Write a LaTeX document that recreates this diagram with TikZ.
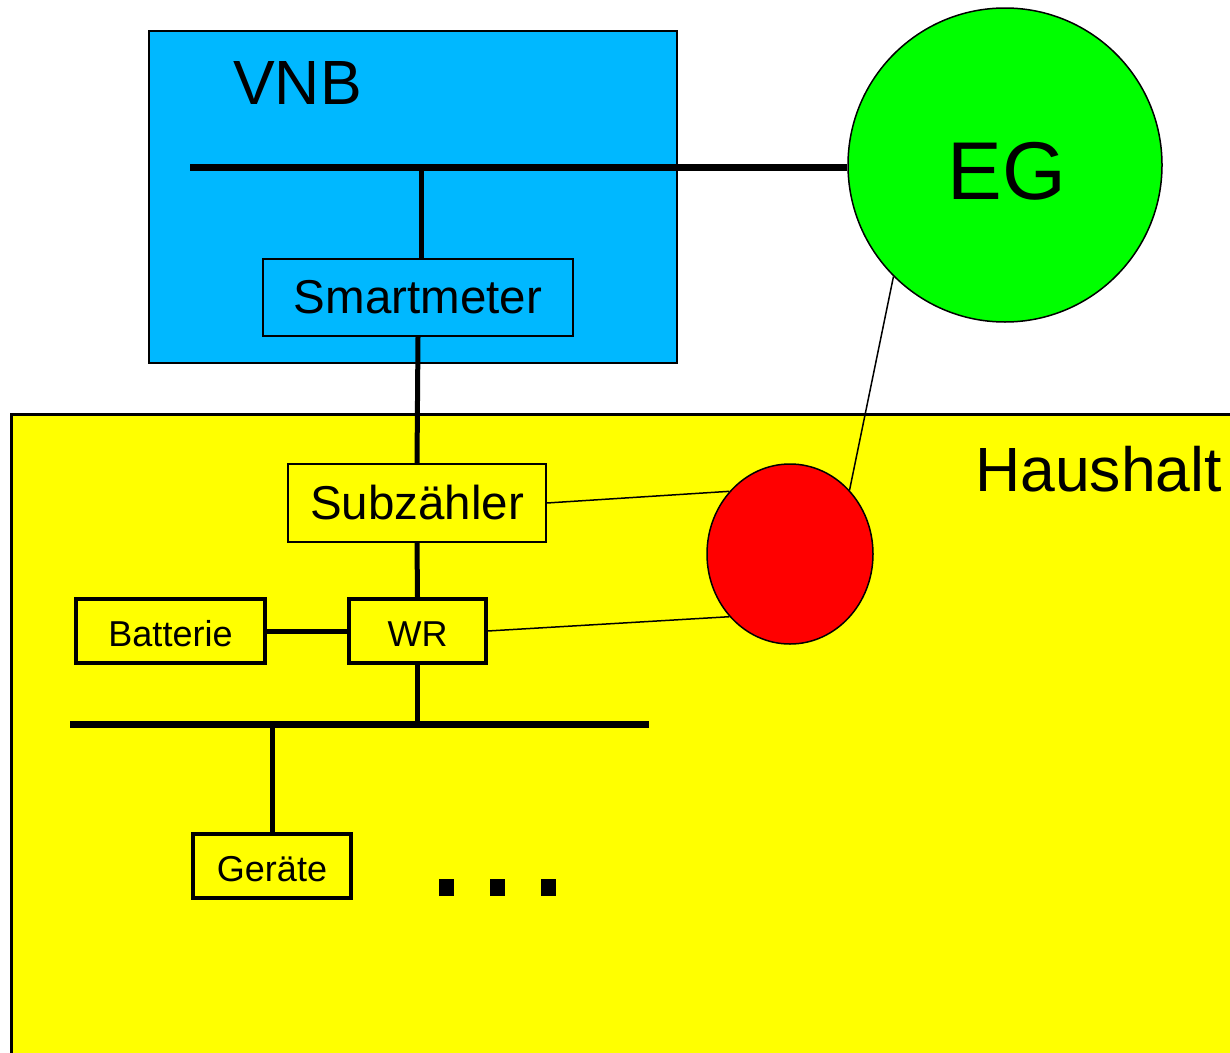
\documentclass[tikz,border=0pt]{standalone}
\usepackage{fontspec}
\setmainfont{Liberation Sans}
\usetikzlibrary{shapes.geometric}
\definecolor{vnbblue}{RGB}{0,184,255}
\definecolor{eggreen}{RGB}{0,255,0}
\definecolor{hhyellow}{RGB}{255,255,0}
\definecolor{ctrlred}{RGB}{255,0,0}
\newcommand{\lowertext}[1]{\raisebox{-3pt}[\height][\depth]{#1}}
\begin{document}
\begin{tikzpicture}[x=1pt,y=-1pt,
  thinbox/.style={draw=black, line width=1.5pt, inner sep=0pt, font=\fontsize{47.5}{56}\selectfont},
  smallbox/.style={draw=black, line width=3.2pt, inner sep=0pt, font=\fontsize{36}{43}\selectfont},
  bus/.style={line width=7pt},
  wire/.style={line width=5pt},
  signal/.style={line width=1.5pt},
  dotsq/.style={fill=black, minimum width=15pt, minimum height=17pt, inner sep=0pt}
]
\useasboundingbox (0,0) rectangle (1230,1052);
\clip (0,0) rectangle (1230,1052);
\fill[white] (0,0) rectangle (1230,1052);

% areas
\node[draw=black, line width=1.5pt, fill=vnbblue, minimum width=528pt, minimum height=332pt, inner sep=0pt] (vnb) at (413,197) {};
\node[draw=black, line width=3pt, fill=hhyellow, minimum width=1240pt, minimum height=660pt, inner sep=0pt, anchor=north west] (haus) at (10,413) {};
\node[draw=black, line width=1.5pt, fill=eggreen, circle, minimum size=314pt, inner sep=0pt] (eg) at (1005,165) {};
\node[draw=black, line width=1.5pt, fill=ctrlred, ellipse, minimum width=166pt, minimum height=180pt, inner sep=0pt] (ctrl) at (790,554) {};

% labels
\node[anchor=base west, inner sep=0pt, font=\fontsize{62.5}{72}\selectfont] (vnblabel) at (233,104) {VNB};
\node[anchor=base, inner sep=0pt, font=\fontsize{82}{92}\selectfont] (eglabel) at (1007,199) {EG};
\node[anchor=base west, inner sep=0pt, font=\fontsize{62.5}{72}\selectfont] (hauslabel) at (975,491) {Haushalt};

% boxes
\node[thinbox, minimum width=310pt, minimum height=77pt] (smart) at (418,297.5) {Smartmeter};
\node[thinbox, minimum width=258pt, minimum height=78pt] (subz) at (417,503) {Subzähler};
\node[smallbox, minimum width=189pt, minimum height=64pt] (batt) at (170.5,631) {\lowertext{Batterie}};
\node[smallbox, minimum width=137pt, minimum height=64pt] (wr) at (417.5,631) {\lowertext{WR}};
\node[smallbox, minimum width=158pt, minimum height=64pt] (geraete) at (272,866) {\lowertext{Geräte}};

% buses
\coordinate (bus1L) at (190,167);
\coordinate (tap1) at (421,167);
\coordinate (bus2L) at (70,724.5);
\coordinate (bus2R) at (649,724.5);
\draw[bus] (bus1L) -- (bus1L -| eg.west);
\draw[bus] (bus2L) -- (bus2R);

% wires
\draw[wire] (tap1) -- (tap1 |- smart.north);
\draw[wire] (smart.south) -- (subz.north);
\draw[wire] (subz.south) -- (wr.north);
\draw[wire] (batt.east) -- (wr.west);
\draw[wire] (wr.south) -- (wr.south |- bus2L);
\draw[wire] (geraete.north) -- (geraete.north |- bus2L);

% signal lines
\draw[signal] (subz.east) -- (ctrl.134.5);
\draw[signal] (wr.east) -- (ctrl.226.8);
\draw[signal] (eg.225.8) -- (ctrl.47.3);

% dots
\node[dotsq] (d1) at (446.5,887.5) {};
\node[dotsq] (d2) at (497.5,887.5) {};
\node[dotsq] (d3) at (548,887.5) {};
\end{tikzpicture}
\end{document}
